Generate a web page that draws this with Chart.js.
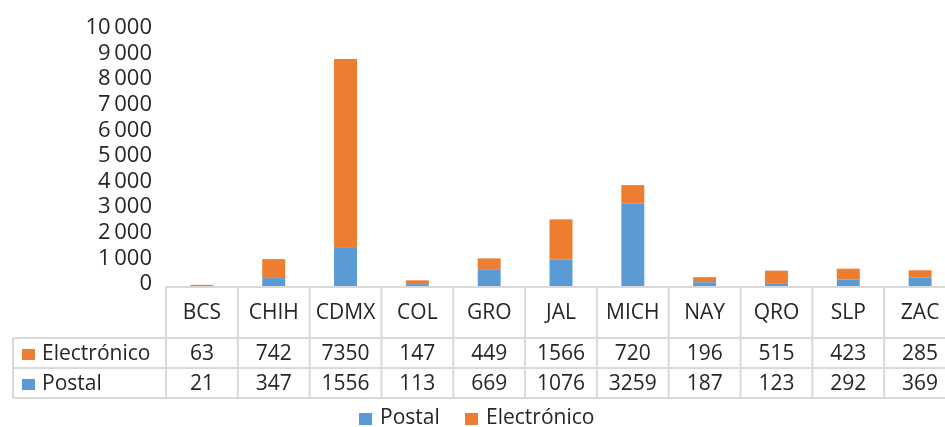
<!DOCTYPE html>
<html>
<head>
<meta charset="utf-8">
<script src="https://cdn.jsdelivr.net/npm/chart.js@4"></script>
<style>
  html, body { margin: 0; padding: 0; background: #fff; overflow: hidden; }
  #wrap { width: 960px; height: 427px; }
</style>
</head>
<body>
<div id="wrap"><canvas id="chart" width="960" height="427"></canvas></div>
<script>
// Data
const categories = ['BCS', 'CHIH', 'CDMX', 'COL', 'GRO', 'JAL', 'MICH', 'NAY', 'QRO', 'SLP', 'ZAC'];
const postal = [21, 347, 1556, 113, 669, 1076, 3259, 187, 123, 292, 369];
const electronico = [63, 742, 7350, 147, 449, 1566, 720, 196, 515, 423, 285];
const yTicks = [0, 1000, 2000, 3000, 4000, 5000, 6000, 7000, 8000, 9000, 10000];

const BLUE = '#5B9BD5', ORANGE = '#ED7D31';
const FONT = '"Open Sans", "Noto Sans", sans-serif';
const TEXT = '#262626', LINE = '#d9d9d9';

function fmt(v) {
  // thin space as thousands separator, like the original
  const s = String(v);
  return s.length > 3 ? s.slice(0, -3) + '\u2009' + s.slice(-3) : s;
}

// data table + legend under the plot
const tablePlugin = {
  id: 'dataTable',
  afterDraw(chart) {
    const ctx = chart.ctx, a = chart.chartArea;
    const colW = (a.right - a.left) / categories.length;
    const y0 = a.bottom, yHead = 338, yRow1 = 368, yRow2 = 398, xLab = 13;
    ctx.save();
    ctx.strokeStyle = LINE;
    ctx.lineWidth = 2;
    ctx.beginPath();
    ctx.moveTo(a.left, y0); ctx.lineTo(a.right, y0);
    [yHead, yRow1, yRow2].forEach(y => { ctx.moveTo(xLab, y); ctx.lineTo(a.right, y); });
    ctx.moveTo(xLab, yHead); ctx.lineTo(xLab, yRow2);
    for (let i = 0; i <= categories.length; i++) {
      const x = a.left + i * colW;
      ctx.moveTo(x, y0); ctx.lineTo(x, yRow2);
    }
    ctx.stroke();

    ctx.fillStyle = TEXT;
    ctx.font = '21px ' + FONT;
    ctx.textAlign = 'center';
    ctx.textBaseline = 'middle';
    categories.forEach((c, i) => {
      const cx = a.left + (i + 0.5) * colW;
      ctx.fillText(c, cx, 313);
      ctx.fillText(String(electronico[i]), cx, 354);
      ctx.fillText(String(postal[i]), cx, 384);
    });

    // row labels with swatches
    const rows = [['Electrónico', ORANGE, 354], ['Postal', BLUE, 384]];
    ctx.textAlign = 'left';
    rows.forEach(([t, col, y]) => {
      ctx.fillStyle = col;
      ctx.fillRect(22, y - 5, 13, 11);
      ctx.fillStyle = TEXT;
      ctx.fillText(t, 42, y);
    });

    // legend
    const leg = [['Postal', BLUE, 359], ['Electrónico', ORANGE, 465]];
    leg.forEach(([t, col, x]) => {
      ctx.fillStyle = col;
      ctx.fillRect(x, 413, 13, 12);
      ctx.fillStyle = TEXT;
      ctx.fillText(t, x + 21, 418);
    });
    ctx.restore();
  }
};

new Chart(document.getElementById('chart'), {
  type: 'bar',
  data: {
    labels: categories,
    datasets: [
      { label: 'Postal', data: postal, backgroundColor: BLUE },
      { label: 'Electrónico', data: electronico, backgroundColor: ORANGE },
    ],
  },
  options: {
    responsive: false,
    animation: false,
    layout: { padding: { top: 31, bottom: 140, right: 4, left: 0 } },
    datasets: { bar: { categoryPercentage: 1, barPercentage: 0.32 } },
    plugins: { legend: { display: false }, tooltip: { enabled: false } },
    scales: {
      x: { stacked: true, display: false },
      y: {
        stacked: true, min: 0, max: 10000,
        afterBuildTicks: s => { s.ticks = yTicks.map(v => ({ value: v })); },
        afterFit: s => { s.width = 166; },
        grid: { display: false },
        border: { display: false },
        ticks: {
          autoSkip: false, padding: 6, labelOffset: -3, color: TEXT,
          font: { family: FONT, size: 22 }, callback: v => fmt(v),
        },
      },
    },
  },
  plugins: [tablePlugin],
});
</script>
</body>
</html>
